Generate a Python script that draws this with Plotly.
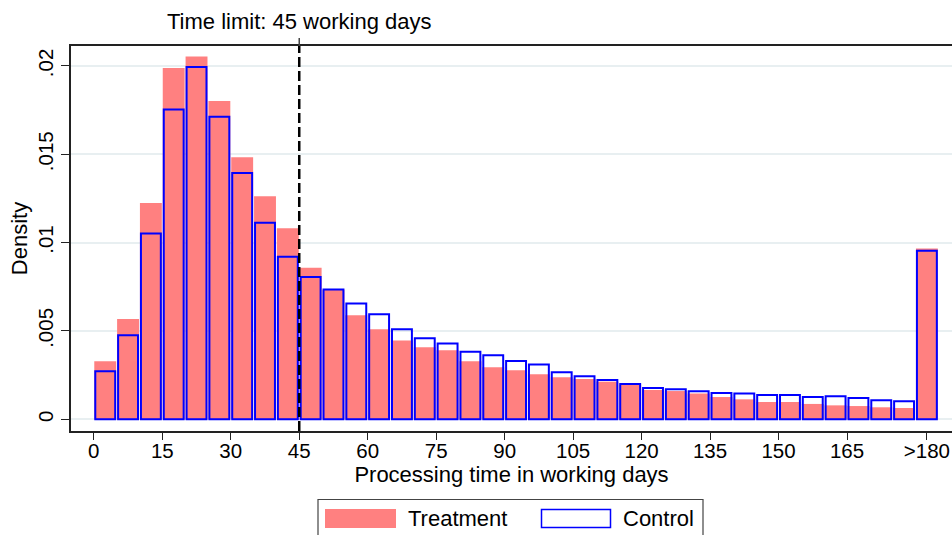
import numpy as np
import plotly.graph_objects as go

# ---- data ----
bin_start = list(range(0, 185, 5))  # last bin (180) represents ">180"
treatment = [0.00329, 0.00568, 0.01224, 0.01989, 0.02053, 0.01802, 0.01484, 0.01263,
             0.01082, 0.00858, 0.00733, 0.00589, 0.00510, 0.00446, 0.00408, 0.00391,
             0.00329, 0.00295, 0.00278, 0.00255, 0.00238, 0.00228, 0.00213, 0.00197,
             0.00166, 0.00160, 0.00146, 0.00126, 0.00113, 0.00098, 0.00098, 0.00087,
             0.00079, 0.00075, 0.00068, 0.00064, 0.00967]
control = [0.00272, 0.00476, 0.01052, 0.01753, 0.01994, 0.01713, 0.01394, 0.01112,
           0.00920, 0.00805, 0.00735, 0.00655, 0.00595, 0.00510, 0.00459, 0.00429,
           0.00383, 0.00363, 0.00330, 0.00310, 0.00266, 0.00244, 0.00222, 0.00200,
           0.00177, 0.00170, 0.00159, 0.00149, 0.00146, 0.00138, 0.00138, 0.00126,
           0.00130, 0.00121, 0.00108, 0.00102, 0.00954]
x_tick_vals = [0, 15, 30, 45, 60, 75, 90, 105, 120, 135, 150, 165, 182.5]
x_tick_text = ["0", "15", "30", "45", "60", "75", "90", "105", "120", "135", "150", "165", ">180"]
y_tick_vals = [0, 0.005, 0.01, 0.015, 0.02]
y_tick_text = ["0", ".005", ".01", ".015", ".02"]
time_limit = 45
time_limit_label = "Time limit: 45 working days"
series_names = ["Treatment", "Control"]

FONT = "Liberation Sans, Arial, Helvetica, sans-serif"
FS = 22      # titles, annotation, legend
TFS = 20.5   # tick labels
RED = "#FF8080"
BLUE = "#0000FF"

# layout geometry (pixels)
W, H = 952, 535
ML, MR, MT, MB = 71, 0, 46, 104
PW, PH = W - ML - MR, H - MT - MB


def px_x(px):
    return (px - ML) / PW


def px_y(py):
    return (H - MB - py) / PH


centers = np.array(bin_start) + 2.5

fig = go.Figure()
fig.add_trace(go.Bar(
    x=centers, y=treatment, width=4.8, name=series_names[0],
    marker=dict(color=RED, line=dict(width=0)), showlegend=False))
fig.add_trace(go.Bar(
    x=centers, y=control, width=4.36, name=series_names[1],
    marker=dict(color="rgba(0,0,0,0)", line=dict(color=BLUE, width=2)), showlegend=False))

fig.update_layout(
    width=W, height=H, barmode="overlay",
    margin=dict(l=ML, r=MR, t=MT, b=MB, pad=0),
    paper_bgcolor="white", plot_bgcolor="white",
    font=dict(family=FONT, size=FS, color="black"),
    xaxis=dict(range=[-5, 188], tickvals=x_tick_vals, ticktext=x_tick_text,
               showgrid=False, zeroline=False, showline=True, linecolor="#222",
               linewidth=1.5, mirror=True, ticks="outside", ticklen=7, tickwidth=1.2,
               tickcolor="#222", tickfont=dict(size=TFS), ticklabelstandoff=-6,
               title=dict(text="Processing time in working days", font=dict(size=FS), standoff=0)),
    yaxis=dict(range=[-0.000662, 0.02113], tickvals=y_tick_vals, ticktext=y_tick_text,
               tickangle=-90, showgrid=True, gridcolor="#E8EFF1", gridwidth=1.5,
               zeroline=False, showline=True, linecolor="#222", linewidth=1.5,
               mirror=False, ticks="outside", ticklen=8, tickwidth=1.2, tickcolor="#222",
               tickfont=dict(size=TFS),
               title=dict(text="Density", font=dict(size=FS), standoff=0)),
)

shapes = [
    dict(type="line", xref="x", yref="paper", x0=time_limit, x1=time_limit, y0=0, y1=1,
         line=dict(color="black", width=2.5, dash="10px,4px"), layer="above"),
    dict(type="line", xref="x", yref="paper", x0=time_limit, x1=time_limit, y0=1,
         y1=px_y(38), line=dict(color="#444", width=1.5), layer="above"),
    # legend box
    dict(type="rect", xref="paper", yref="paper", x0=px_x(318), x1=px_x(703),
         y0=px_y(540), y1=px_y(499.5), line=dict(color="#444", width=1.2),
         fillcolor="white", layer="above"),
    dict(type="rect", xref="paper", yref="paper", x0=px_x(325), x1=px_x(396),
         y0=px_y(528), y1=px_y(509), line=dict(width=0), fillcolor=RED, layer="above"),
    dict(type="rect", xref="paper", yref="paper", x0=px_x(541.5), x1=px_x(610.5),
         y0=px_y(527.5), y1=px_y(509.5), line=dict(color=BLUE, width=1.5),
         fillcolor="white", layer="above"),
]
fig.update_layout(shapes=shapes)

fig.add_annotation(x=time_limit, xref="x", y=px_y(21), yref="paper", text=time_limit_label,
                   showarrow=False, xanchor="center", yanchor="middle", font=dict(size=FS))
fig.add_annotation(x=px_x(406), xref="paper", y=px_y(518.5), yref="paper", text=series_names[0],
                   showarrow=False, xanchor="left", yanchor="middle", font=dict(size=FS))
fig.add_annotation(x=px_x(621), xref="paper", y=px_y(518.5), yref="paper", text=series_names[1],
                   showarrow=False, xanchor="left", yanchor="middle", font=dict(size=FS))

fig.write_html("out.html")
